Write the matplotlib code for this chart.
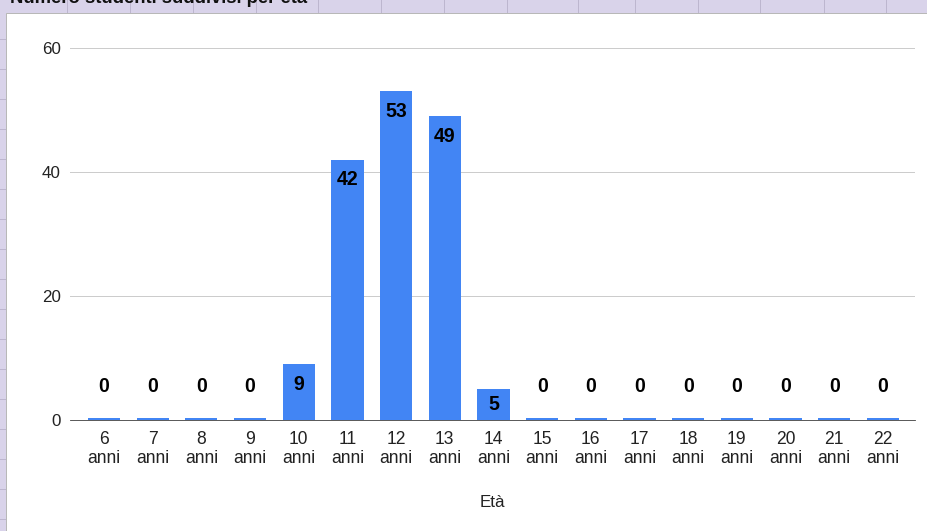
import matplotlib.pyplot as plt
from matplotlib.patches import Rectangle

plt.rcParams['font.family'] = ['Liberation Sans', 'DejaVu Sans']

eta = ["6", "7", "8", "9", "10", "11", "12", "13", "14",
       "15", "16", "17", "18", "19", "20", "21", "22"]
studenti = [0, 0, 0, 0, 9, 42, 53, 49, 5, 0, 0, 0, 0, 0, 0, 0, 0]
tick_labels = [e + "\nanni" for e in eta]

W, H = 927, 531
fig = plt.figure(figsize=(W / 72, H / 72), dpi=72)
fig.patch.set_facecolor("#d9d3ea")

# spreadsheet cells behind the chart
for gx in [67, 130, 193, 256, 318, 381, 444, 507, 578, 635, 698, 760, 824, 886]:
    fig.add_artist(plt.Line2D([gx / W, gx / W], [1 - 12 / H, 1], color="#bdb6cf", lw=1, zorder=-3))
for gy in range(39, H, 30):
    fig.add_artist(plt.Line2D([0, 6 / W], [1 - gy / H, 1 - gy / H], color="#bdb6cf", lw=1, zorder=-3))
fig.add_artist(Rectangle((6 / W, 0), 1, 1 - 13 / H, transform=fig.transFigure,
                         facecolor="white", edgecolor="#b8b8b8", lw=1, zorder=-2))
fig.text(10 / W, 1 - 3 / H, "Numero studenti suddivisi per età", fontsize=18.5,
         fontweight="bold", va="baseline", ha="left", color="#111111", zorder=-1)

ax = fig.add_axes([70 / W, 111 / H, 845 / W, 372 / H])
ax.set_facecolor("none")
x = list(range(len(eta)))
ax.bar(x, studenti, width=0.66, color="#4285f4", zorder=3)
# zero bars show as a thin line on the baseline
ax.bar(x, [0.25 if v == 0 else 0 for v in studenti], width=0.66, color="#4285f4", zorder=3)

ax.set_xlim(-0.7, 16.66)
ax.set_ylim(0, 60)

px_per_unit = 372 / 60
for i, v in zip(x, studenti):
    if v > 0:
        off = -min(20, v * px_per_unit - 16)
    else:
        off = 33
    ax.annotate(str(v), (i, v), xytext=(0, off), textcoords="offset points",
                ha="center", va="center", fontsize=19.5, fontweight="bold", zorder=4)

ax.set_yticks([0, 20, 40, 60])
ax.set_xticks(x)
ax.set_xticklabels(tick_labels, fontsize=17.5, color="#222222", linespacing=1.15)
ax.tick_params(axis="y", labelsize=17, colors="#222222", length=0, pad=9)
ax.tick_params(axis="x", length=0, pad=11)
ax.grid(axis="y", color="#cccccc", lw=1, zorder=0)
for s in ["top", "right", "left"]:
    ax.spines[s].set_visible(False)
ax.spines["bottom"].set_color("#333333")
ax.spines["bottom"].set_zorder(5)
ax.set_xlabel("Età", fontsize=17, color="#222222", labelpad=28)

fig.savefig("out.png", dpi=72, facecolor=fig.get_facecolor())
